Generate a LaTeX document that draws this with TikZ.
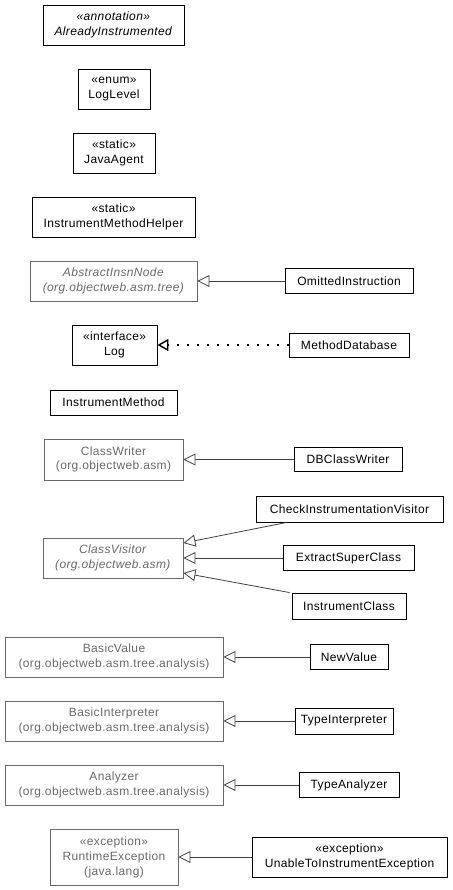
\documentclass[tikz,border=0pt]{standalone}
\usepackage{fontspec}
\setmainfont[LetterSpace=3]{Liberation Sans}
\usetikzlibrary{arrows.meta}
\definecolor{boxgray}{RGB}{105,105,105}
\definecolor{linegray}{RGB}{64,64,64}
\begin{document}
\begin{tikzpicture}[x=1pt,y=-1pt,
  cls/.style={draw=black, line width=0.9pt, align=center, inner sep=0pt,
    font=\fontsize{12}{14.5}\selectfont},
  ext/.style={cls, draw=boxgray, text=boxgray, line width=0.9pt},
  gen/.style={draw=linegray, line width=0.8pt,
    -{Triangle[open, length=12pt, width=12pt, fill=white]}},
  real/.style={draw=black, line width=1.4pt, dash pattern=on 2pt off 8pt,
    -{Triangle[open, length=11pt, width=12pt, fill=white, line width=1.4pt, sep=0pt]}}]
\useasboundingbox (0,0) rectangle (452,890);
\node[cls, minimum width=141pt, minimum height=40pt] (ai) at (113.5,25) {\textit{«annotation»}\\\textit{AlreadyInstrumented}};
\node[cls, minimum width=72pt, minimum height=40pt] (ll) at (114,89) {«enum»\\LogLevel};
\node[cls, minimum width=82pt, minimum height=40pt] (ja) at (114,153) {«static»\\JavaAgent};
\node[cls, minimum width=163pt, minimum height=40pt] (imh) at (113.5,217) {«static»\\InstrumentMethodHelper};
\node[ext, minimum width=167pt, minimum height=40pt] (ain) at (113.5,281) {\textit{AbstractInsnNode}\\\textit{(org.objectweb.asm.tree)}};
\node[cls, minimum width=128pt, minimum height=25pt] (oi) at (349,281) {OmittedInstruction};
\node[cls, minimum width=85pt, minimum height=40pt] (log) at (114.5,345) {«interface»\\Log};
\node[cls, minimum width=120pt, minimum height=24pt] (md) at (349,345) {MethodDatabase};
\node[cls, minimum width=127pt, minimum height=25pt] (im) at (113.5,402.5) {InstrumentMethod};
\node[ext, minimum width=139pt, minimum height=41pt] (cw) at (113.5,459.5) {ClassWriter\\(org.objectweb.asm)};
\node[cls, minimum width=108pt, minimum height=24pt] (dbcw) at (348,459.5) {DBClassWriter};
\node[cls, minimum width=187pt, minimum height=26pt] (civ) at (349.5,509) {CheckInstrumentationVisitor};
\node[ext, minimum width=140pt, minimum height=40pt] (cv) at (113,558) {\textit{ClassVisitor}\\\textit{(org.objectweb.asm)}};
\node[cls, minimum width=131pt, minimum height=25pt] (esc) at (348.5,558) {ExtractSuperClass};
\node[cls, minimum width=114pt, minimum height=26pt] (ic) at (349,606) {InstrumentClass};
\node[ext, minimum width=218pt, minimum height=40pt] (bv) at (114,657) {BasicValue\\(org.objectweb.asm.tree.analysis)};
\node[cls, minimum width=78pt, minimum height=25pt] (nv) at (349,657) {NewValue};
\node[ext, minimum width=218pt, minimum height=40pt] (bi) at (114,721) {BasicInterpreter\\(org.objectweb.asm.tree.analysis)};
\node[cls, minimum width=98pt, minimum height=26pt] (ti) at (344,721) {TypeInterpreter};
\node[ext, minimum width=218pt, minimum height=40pt] (an) at (114,785) {Analyzer\\(org.objectweb.asm.tree.analysis)};
\node[cls, minimum width=100pt, minimum height=25pt] (ta) at (349,785) {TypeAnalyzer};
\node[ext, minimum width=128pt, minimum height=56pt, font=\fontsize{12}{15}\selectfont] (re) at (114,857) {«exception»\\RuntimeException\\(java.lang)};
\node[cls, minimum width=195pt, minimum height=40pt] (ut) at (349.5,857) {«exception»\\UnableToInstrumentException};
\draw[gen] (oi.west) -- (ain.east);
\draw[real] (md.west) -- (log.east);
\draw[gen] (dbcw.west) -- (cw.east);
\draw[gen] ([xshift=31pt]civ.south west) -- ([yshift=15pt]cv.east);
\draw[gen] (esc.west) -- (cv.east);
\draw[gen] ([xshift=-2pt]ic.north west) -- ([yshift=-15pt]cv.east);
\draw[gen] (nv.west) -- (bv.east);
\draw[gen] (ti.west) -- (bi.east);
\draw[gen] (ta.west) -- (an.east);
\draw[gen] (ut.west) -- (re.east);
\end{tikzpicture}
\end{document}
